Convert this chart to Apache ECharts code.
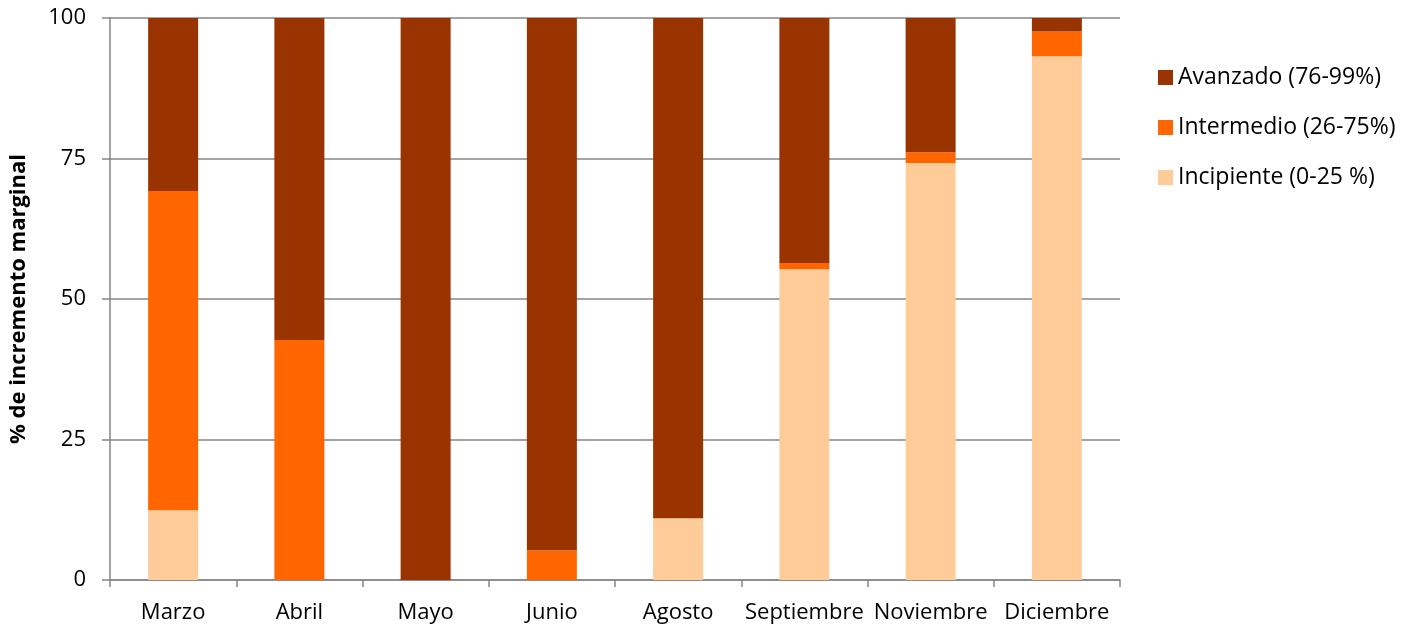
<!DOCTYPE html>
<html>
<head>
<meta charset="utf-8">
<script src="https://cdn.jsdelivr.net/npm/echarts@6/dist/echarts.min.js"></script>
<style>
  html, body { margin: 0; padding: 0; background: #fff; }
  #chart { width: 1416px; height: 630px; }
</style>
</head>
<body>
<div id="chart"></div>
<script>
const months = ['Marzo', 'Abril', 'Mayo', 'Junio', 'Agosto', 'Septiembre', 'Noviembre', 'Diciembre'];
const incipiente = [12.4, 0, 0, 0, 11.0, 55.3, 74.2, 93.2];
const intermedio = [56.8, 42.7, 0, 5.3, 0, 1.1, 1.9, 4.4];
const avanzado = [30.8, 57.3, 100, 94.7, 89.0, 43.6, 23.9, 2.4];
const yTicks = [0, 25, 50, 75, 100];

const font = '"Open Sans", "Liberation Sans", sans-serif';
const axisGray = '#868686';

const chart = echarts.init(document.getElementById('chart'));

function barSeries(name, data, color) {
  return {
    name: name,
    type: 'bar',
    stack: 'total',
    barWidth: 50,
    data: data,
    itemStyle: { color: color }
  };
}

const option = {
  animation: false,
  textStyle: { fontFamily: font, color: '#000' },
  grid: { left: 110, right: 296, top: 18, bottom: 50, outerBoundsMode: 'none' },
  legend: {
    orient: 'vertical',
    left: 1153,
    top: 61,
    itemWidth: 15,
    itemHeight: 15,
    itemGap: 27,
    icon: 'rect',
    textStyle: { fontFamily: font, fontSize: 23, color: '#000' },
    data: ['Avanzado (76-99%)', 'Intermedio (26-75%)', 'Incipiente (0-25 %)']
  },
  xAxis: {
    type: 'category',
    data: months,
    axisLine: { lineStyle: { color: axisGray, width: 1.5 } },
    axisTick: { show: true, length: 7, lineStyle: { color: axisGray, width: 1.5 } },
    axisLabel: { fontFamily: font, fontSize: 22, color: '#000', margin: 22, interval: 0 }
  },
  yAxis: {
    type: 'value',
    min: yTicks[0],
    max: yTicks[yTicks.length - 1],
    interval: 25,
    name: '% de incremento marginal',
    nameLocation: 'middle',
    nameGap: 80,
    nameRotate: 90,
    nameTextStyle: { fontFamily: font, fontSize: 22, fontWeight: 'bold', color: '#000' },
    axisLine: { show: true, lineStyle: { color: axisGray, width: 1.5 } },
    axisTick: { show: true, length: 8, lineStyle: { color: axisGray, width: 1.5 } },
    axisLabel: { fontFamily: font, fontSize: 22, color: '#000', margin: 24 },
    splitLine: { lineStyle: { color: axisGray, width: 1.5 } }
  },
  series: [
    barSeries('Incipiente (0-25 %)', incipiente, '#FFCC99'),
    barSeries('Intermedio (26-75%)', intermedio, '#FF6600'),
    barSeries('Avanzado (76-99%)', avanzado, '#993300')
  ]
};

chart.setOption(option);
</script>
</body>
</html>
